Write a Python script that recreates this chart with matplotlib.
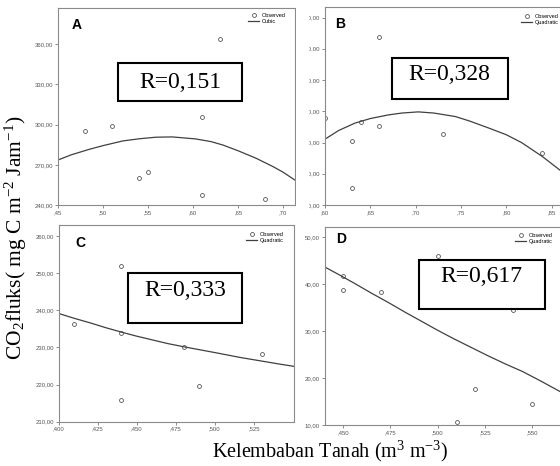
import matplotlib
matplotlib.use('Agg')
import matplotlib.pyplot as plt
from matplotlib.patches import Rectangle

plt.rcParams['font.family'] = ['Liberation Sans', 'DejaVu Sans']
plt.rcParams['mathtext.fontset'] = 'custom'
plt.rcParams['mathtext.rm'] = 'Liberation Serif'
plt.rcParams['mathtext.it'] = 'Liberation Serif:italic'

# panel A (cubic)
a_obs_x = [0.48, 0.51, 0.54, 0.55, 0.61, 0.61, 0.63, 0.68]
a_obs_y = [295, 299, 260, 264.4, 306, 247.5, 363.7, 244.7]
a_fit_x = [0.45, 0.465, 0.485, 0.50, 0.522, 0.54, 0.559, 0.577, 0.603, 0.62,
           0.633, 0.65, 0.67, 0.689, 0.70, 0.713]
a_fit_y = [273.6, 277.5, 281.6, 284.3, 287.8, 289.4, 290.6, 290.8, 289.3, 287.3,
           284.8, 280.5, 274.9, 268.6, 264.5, 258.7]
a_xticks = [0.45, 0.50, 0.55, 0.60, 0.65, 0.70]
a_yticks = [240, 270, 300, 330, 360]

# panel B (quadratic)
b_obs_x = [0.60, 0.63, 0.63, 0.64, 0.66, 0.66, 0.73, 0.84]
b_obs_y = [263.4, 241.3, 196.6, 259.5, 256, 340.9, 248, 230.3]
b_fit_x = [0.60, 0.615, 0.633, 0.65, 0.67, 0.685, 0.703, 0.72, 0.744, 0.76,
           0.781, 0.80, 0.817, 0.84, 0.859, 0.87]
b_fit_y = [243.2, 251.5, 258.6, 263.0, 266.5, 268.3, 269.4, 268.3, 264.9, 260.5,
           253.8, 247.5, 239.9, 226.5, 213.7, 205]
b_xticks = [0.60, 0.65, 0.70, 0.75, 0.80, 0.85]
b_yticks = [180, 210, 240, 270, 300, 330, 360]

# panel C (quadratic)
c_obs_x = [0.41, 0.44, 0.44, 0.44, 0.48, 0.49, 0.53]
c_obs_y = [236.2, 251.8, 233.9, 215.8, 230.0, 219.6, 228.3]
c_fit_x = [0.40, 0.41, 0.42, 0.43, 0.441, 0.45, 0.462, 0.47, 0.482, 0.50,
           0.516, 0.533, 0.54, 0.552]
c_fit_y = [239.1, 237.8, 236.6, 235.3, 234.0, 233.0, 231.8, 231.0, 230.0, 228.6,
           227.3, 226.1, 225.6, 224.8]
c_xticks = [0.400, 0.425, 0.450, 0.475, 0.500, 0.525]
c_yticks = [210, 220, 230, 240, 250, 260]

# panel D (quadratic)
d_obs_x = [0.45, 0.45, 0.47, 0.50, 0.51, 0.52, 0.54, 0.55]
d_obs_y = [41.8, 38.7, 38.3, 46.1, 10.7, 17.7, 34.5, 14.5]
d_fit_x = [0.44, 0.448, 0.456, 0.465, 0.474, 0.483, 0.492, 0.50, 0.509, 0.518,
           0.527, 0.536, 0.545, 0.555, 0.565]
d_fit_y = [43.75, 42.0, 40.2, 38.1, 36.1, 34.0, 32.0, 30.2, 28.3, 26.5,
           24.7, 23.0, 21.4, 19.3, 17.1]
d_xticks = [0.450, 0.475, 0.500, 0.525, 0.550]
d_yticks = [10, 20, 30, 40, 50]

W, H = 560, 466
fig = plt.figure(figsize=(W / 100, H / 100), dpi=100)


def px_axes(l, t, r, b):
    return fig.add_axes([l / W, 1 - b / H, (r - l) / W, (b - t) / H])


def fx(x):
    return x / W


def fy(y):
    return 1 - y / H


def panel(ax, ox, oy, fx_, fy_, fitname, xticks, yticks, ndec, xlim, ylim, legpos):
    obs, = ax.plot(ox, oy, 'o', mfc='none', mec='#555555', ms=2.8, mew=0.6, ls='none')
    fit, = ax.plot(fx_, fy_, color='#404040', lw=0.9)
    ax.set_xlim(*xlim)
    ax.set_ylim(*ylim)
    ax.set_xticks(xticks)
    ax.set_xticklabels([f"{v:.{ndec}f}"[1:].replace('.', ',') for v in xticks])
    ax.set_yticks(yticks)
    ax.set_yticklabels([f"{v:.2f}".replace('.', ',') for v in yticks])
    ax.tick_params(direction='out', length=2.5, width=0.6, color='#777777',
                   labelsize=4.3, labelcolor='#555555', pad=1)
    for s in ax.spines.values():
        s.set_color('#8a8a8a')
        s.set_linewidth(0.8)
    ax.legend([obs, fit], ['Observed', fitname], fontsize=4, frameon=False,
              loc='upper right', bbox_to_anchor=(fx(legpos[0]), fy(legpos[1])),
              bbox_transform=fig.transFigure, borderpad=0, labelspacing=0.15,
              handlelength=2.0, handletextpad=0.4, numpoints=1)


axA = px_axes(58, 8, 295, 205)
panel(axA, a_obs_x, a_obs_y, a_fit_x, a_fit_y, 'Cubic', a_xticks, a_yticks, 2,
      (0.45, 0.7133), (240, 387), (288, 10))
axB = px_axes(325, 7, 566, 205)
panel(axB, b_obs_x, b_obs_y, b_fit_x, b_fit_y, 'Quadratic', b_xticks, b_yticks, 2,
      (0.60, 0.866), (180, 370.1), (561, 11))
axC = px_axes(58.7, 225, 294, 421.7)
panel(axC, c_obs_x, c_obs_y, c_fit_x, c_fit_y, 'Quadratic', c_xticks, c_yticks, 3,
      (0.40, 0.5508), (210, 262.9), (286, 229))
axD = px_axes(325, 226.7, 566, 425)
panel(axD, d_obs_x, d_obs_y, d_fit_x, d_fit_y, 'Quadratic', d_xticks, d_yticks, 3,
      (0.4403, 0.568), (10, 52.3), (555, 230))

# B tick labels are cut off on the left in the original
fig.add_artist(Rectangle((fx(296), fy(215)), (308.5 - 296) / W, 215 / H,
                         transform=fig.transFigure, facecolor='white',
                         edgecolor='none', zorder=5))

# panel letters
for lab, x, y in [('A', 77, 25), ('B', 340, 24), ('C', 80, 243), ('D', 341, 239)]:
    fig.text(fx(x), fy(y), lab, fontsize=10, fontweight='bold', ha='center', va='center')

# R boxes
boxes = [('R=0,151', 118, 63, 242, 101, 180, 82),
         ('R=0,328', 392, 58, 508, 99, 449, 75),
         ('R=0,333', 128, 273, 242, 323, 185, 290),
         ('R=0,617', 419, 260, 545, 309, 481, 277)]
for txt, l, t, r, b, tx, ty in boxes:
    fig.add_artist(Rectangle((fx(l), fy(b)), (r - l) / W, (b - t) / H,
                             transform=fig.transFigure, facecolor='white',
                             edgecolor='black', lw=1.5, zorder=6))
    fig.text(fx(tx), fy(ty), txt, fontsize=17, family='Liberation Serif',
             ha='center', va='center', zorder=7)

fig.text(fx(16), fy(238), r'CO$_2$fluks( mg C m$^{-2}$ Jam$^{-1}$)', rotation=90,
         fontsize=15.5, family='Liberation Serif', ha='center', va='center')
fig.text(fx(330), fy(451), r'Kelembaban Tanah (m$^{3}$ m$^{-3}$)',
         fontsize=14.5, family='Liberation Serif', ha='center', va='center')

fig.savefig('out.png', dpi=100)
